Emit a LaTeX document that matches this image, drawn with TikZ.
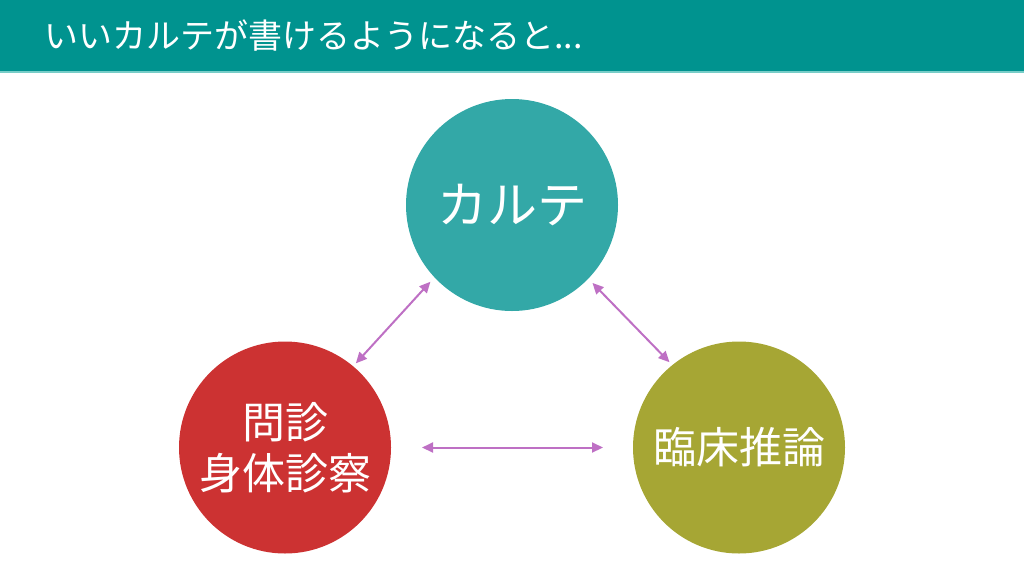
\documentclass[tikz,border=0pt]{standalone}
\usepackage{fontspec}
\setmainfont{Noto Sans CJK JP}
\usetikzlibrary{positioning,arrows.meta}

\definecolor{barteal}{RGB}{0,147,143}
\definecolor{barline}{RGB}{120,205,200}
\definecolor{karteteal}{RGB}{51,168,167}
\definecolor{shinsatsured}{RGB}{204,50,50}
\definecolor{suironolive}{RGB}{166,166,52}
\definecolor{linkpurple}{RGB}{190,112,196}

\tikzset{
  topic/.style={circle, minimum size=212pt, inner sep=0pt, outer sep=0pt,
    text=white, align=center},
  link/.style={{Triangle[length=11pt,width=10pt]}-{Triangle[length=11pt,width=10pt]},
    draw=linkpurple, line width=2pt}
}

\begin{document}
\begin{tikzpicture}[x=1pt, y=-1pt]
  \useasboundingbox (0,0) rectangle (1024,576);
  % title bar
  \fill[barteal] (0,0) rectangle (1024,71);
  \fill[barline] (0,71) rectangle (1024,73);
  \node[anchor=west, text=white, inner sep=0pt, font=\fontsize{34}{38}\selectfont] (title) at (44,36) {いいカルテが書けるようになると...};
  % circles
  \node[topic, fill=karteteal, font=\fontsize{50}{58}\selectfont] (karte) at (512,205) {カルテ};
  \node[topic, fill=shinsatsured, font=\fontsize{43}{51}\selectfont] (shinsatsu) at (285,447.5) {問診\\身体診察};
  \node[topic, fill=suironolive, font=\fontsize{43}{51}\selectfont, right=242pt of shinsatsu] (suiron) {臨床推論};
  % arrows
  \draw[link, shorten <=6pt, shorten >=4pt] (karte.223.5) -- (shinsatsu.50.4);
  \draw[link, shorten <=6pt, shorten >=4pt] (karte.316.5) -- (suiron.129.6);
  \draw[link, shorten <=31pt, shorten >=30pt] (shinsatsu) -- (suiron);
\end{tikzpicture}
\end{document}
